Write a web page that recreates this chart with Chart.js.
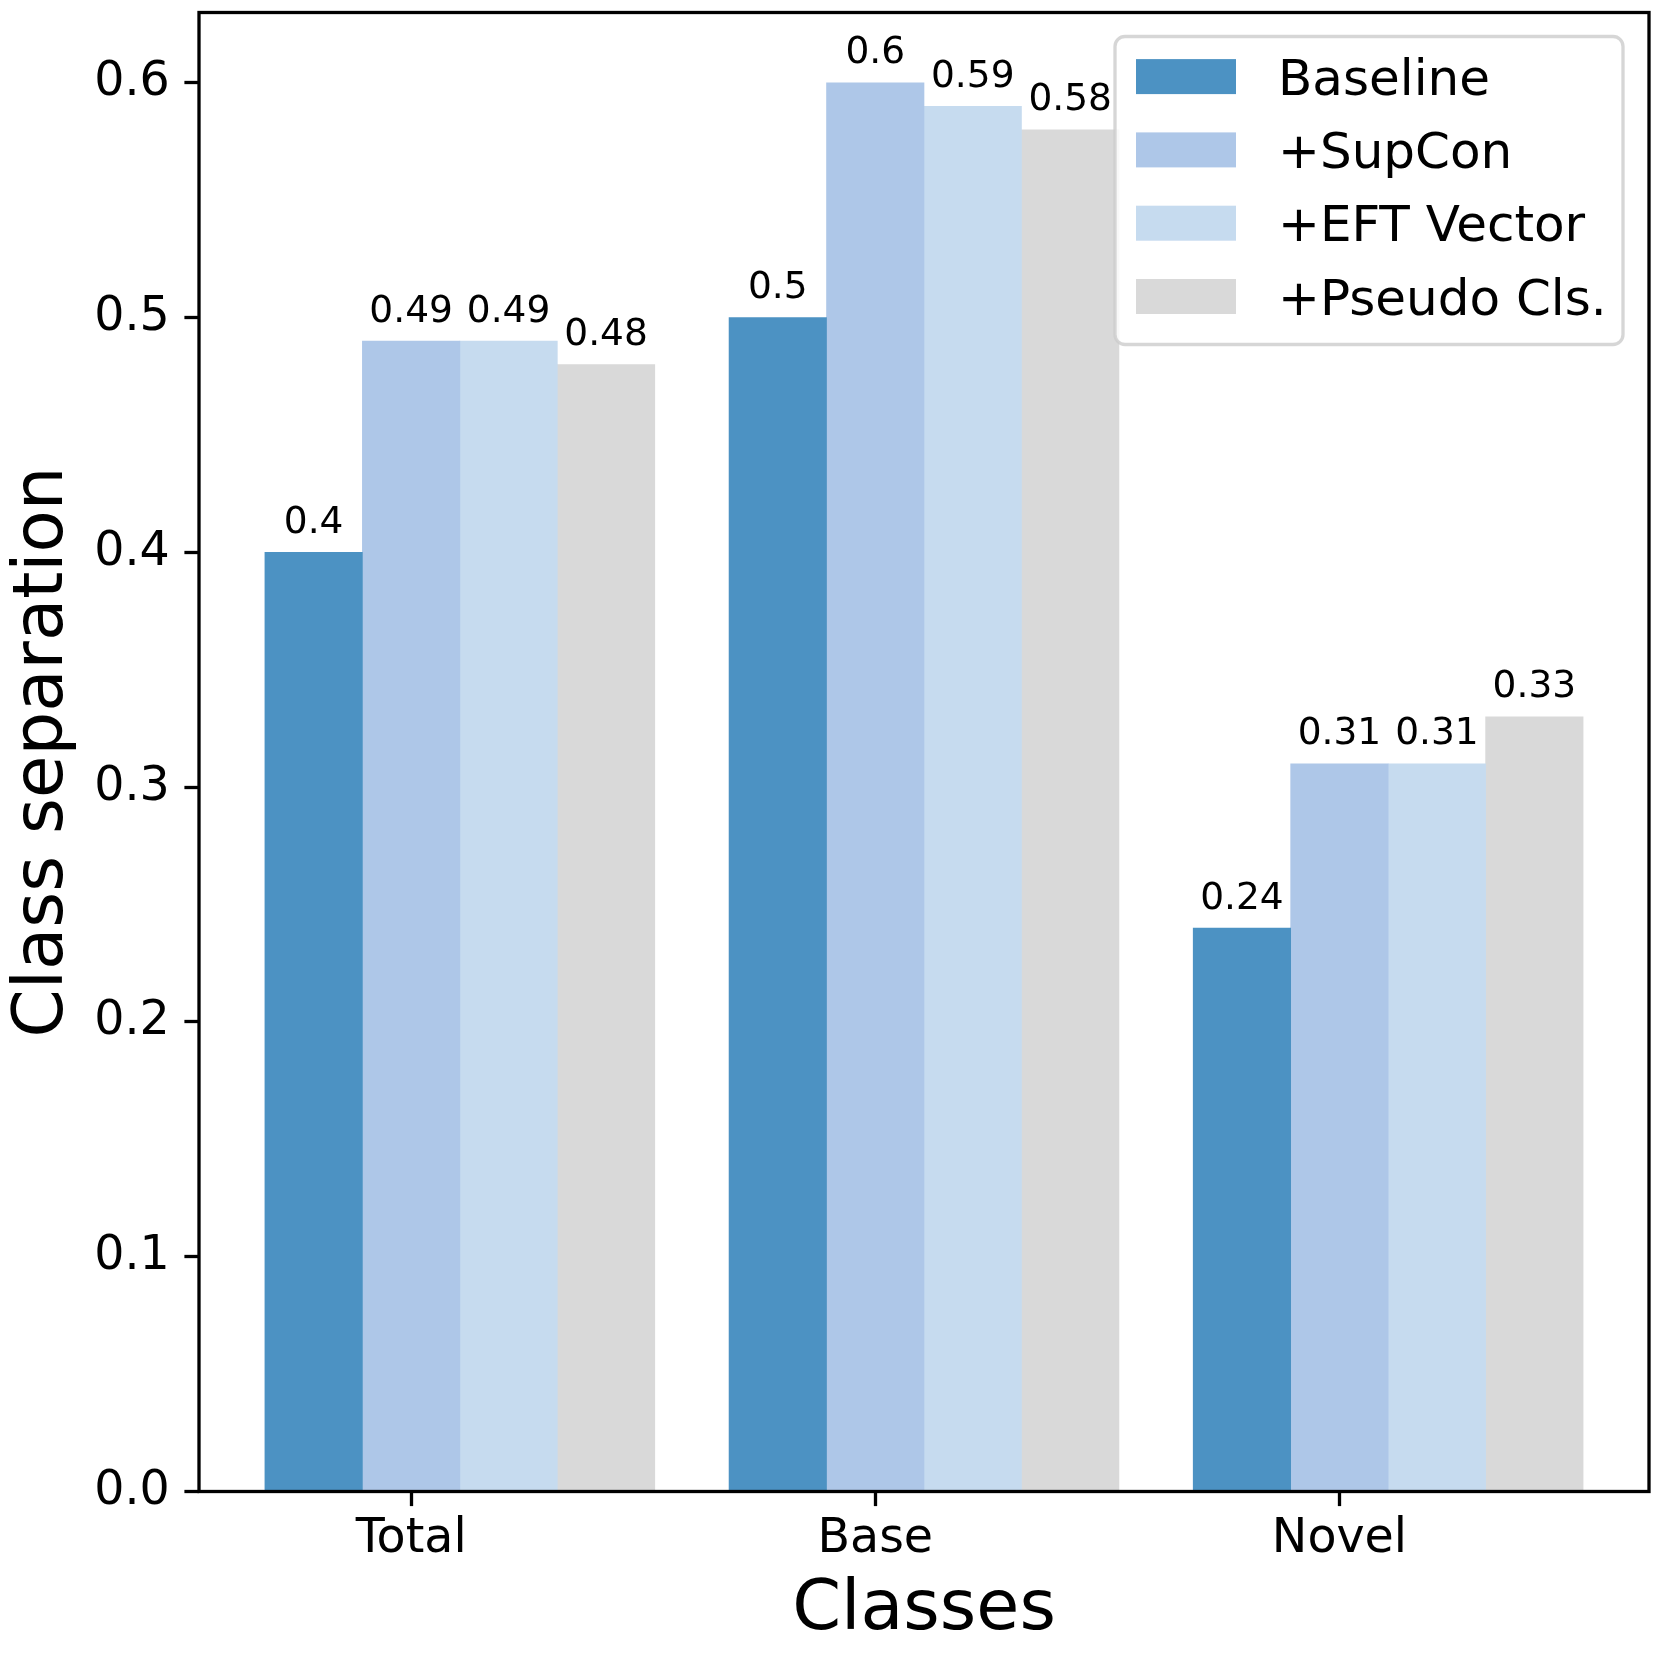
<!DOCTYPE html>
<html>
<head>
<meta charset="utf-8">
<script src="https://cdn.jsdelivr.net/npm/chart.js@4.4.0/dist/chart.umd.min.js"></script>
<style>
  html, body { margin: 0; padding: 0; background: #fff; }
  #chart { display: block; }
</style>
</head>
<body>
<canvas id="chart" width="1661" height="1661"></canvas>
<script>
// --- data ---
const categories = ['Total', 'Base', 'Novel'];
const seriesNames = ['Baseline', '+SupCon', '+EFT Vector', '+Pseudo Cls.'];
const baseline = [0.4, 0.5, 0.24];
const supCon = [0.49, 0.6, 0.31];
const eftVector = [0.49, 0.59, 0.31];
const pseudoCls = [0.48, 0.58, 0.33];
const yTicks = [0, 0.1, 0.2, 0.3, 0.4, 0.5, 0.6];
const seriesColors = ['#4c92c3', '#aec7e8', '#c6dbef', '#d9d9d9'];

const FONT = "'DejaVu Sans', sans-serif";
const BAR_W = 0.21; // bar width in category units, tick sits on the 2nd bar
const Y_MAX = 0.63;

const allSeries = [baseline, supCon, eftVector, pseudoCls];

// x range like matplotlib's 5% margins
const leftEdge = -1 * BAR_W - BAR_W / 2;
const rightEdge = (categories.length - 1) + 2 * BAR_W + BAR_W / 2;
const margin = (rightEdge - leftEdge) * 0.05;

const datasets = allSeries.map((values, j) => ({
    label: seriesNames[j],
    data: values.map((v, i) => ({ x: i + (j - 1) * BAR_W, y: v })),
    backgroundColor: seriesColors[j],
    borderWidth: 0,
    grouped: false,
    barPercentage: 1,
    categoryPercentage: 1
}));

// spines, value labels and the boxed legend
const decorations = {
    id: 'decorations',
    afterDatasetsDraw(chart) {
        const { ctx, chartArea } = chart;
        ctx.save();

        // value labels above bars
        ctx.font = `37.5px ${FONT}`;
        ctx.fillStyle = '#000';
        ctx.textAlign = 'center';
        ctx.textBaseline = 'alphabetic';
        chart.data.datasets.forEach((ds, j) => {
            const meta = chart.getDatasetMeta(j);
            meta.data.forEach((bar, i) => {
                ctx.fillText(String(allSeries[j][i]), bar.x, bar.y - 19.5);
            });
        });

        // four spines
        ctx.strokeStyle = '#000';
        ctx.lineWidth = 3.3;
        ctx.strokeRect(chartArea.left, chartArea.top,
            chartArea.right - chartArea.left, chartArea.bottom - chartArea.top);
        ctx.restore();
    },
    afterDraw(chart) {
        const { ctx, chartArea } = chart;
        const boxRight = chartArea.right - 26;
        const boxTop = chartArea.top + 24;
        const boxW = 508;
        const boxH = 308;
        const boxLeft = boxRight - boxW;

        ctx.save();
        ctx.beginPath();
        ctx.roundRect(boxLeft, boxTop, boxW, boxH, 10);
        ctx.fillStyle = 'rgba(255,255,255,0.8)';
        ctx.fill();
        ctx.strokeStyle = 'rgba(204,204,204,0.8)';
        ctx.lineWidth = 3.3;
        ctx.stroke();

        ctx.font = `50px ${FONT}`;
        ctx.textAlign = 'left';
        ctx.textBaseline = 'alphabetic';
        chart.data.datasets.forEach((ds, j) => {
            const rowTop = boxTop + 22.6 + j * 73.3;
            ctx.fillStyle = ds.backgroundColor;
            ctx.fillRect(boxLeft + 21, rowTop, 100, 35);
            ctx.fillStyle = '#000';
            ctx.fillText(ds.label, boxLeft + 163, rowTop + 35.7);
        });
        ctx.restore();
    }
};

const tickGrid = {
    drawOnChartArea: false,
    drawTicks: true,
    offset: false,
    tickLength: 14.6,
    tickWidth: 3.3,
    tickColor: '#000'
};

new Chart(document.getElementById('chart'), {
    type: 'bar',
    data: { datasets },
    options: {
        responsive: false,
        animation: false,
        layout: { padding: { top: 12.5, right: 12, left: 0, bottom: 0 } },
        plugins: {
            legend: { display: false },
            tooltip: { enabled: false }
        },
        scales: {
            x: {
                type: 'linear',
                offset: false,
                min: leftEdge - margin,
                max: rightEdge + margin,
                afterBuildTicks: (scale) => {
                    scale.ticks = categories.map((_, i) => ({ value: i }));
                },
                afterFit: (scale) => {
                    scale.height = 169.5;
                    scale.paddingLeft = 0;
                    scale.paddingRight = 0;
                },
                ticks: {
                    callback: (v) => categories[v],
                    font: { family: FONT, size: 47.5 },
                    color: '#000',
                    padding: 5,
                    maxRotation: 0,
                    autoSkip: false
                },
                grid: tickGrid,
                border: { display: false },
                title: {
                    display: true,
                    text: 'Classes',
                    font: { family: FONT, size: 70 },
                    color: '#000',
                    padding: { top: 0, bottom: 8 }
                }
            },
            y: {
                type: 'linear',
                min: 0,
                max: Y_MAX,
                afterBuildTicks: (scale) => {
                    scale.ticks = yTicks.map(v => ({ value: v }));
                },
                afterFit: (scale) => {
                    scale.width = 199;
                    scale.paddingTop = 0;
                    scale.paddingBottom = 0;
                },
                ticks: {
                    callback: (v) => v.toFixed(1),
                    font: { family: FONT, size: 47.5 },
                    color: '#000',
                    padding: 14.6
                },
                grid: tickGrid,
                border: { display: false },
                title: {
                    display: true,
                    text: 'Class separation',
                    font: { family: FONT, size: 69 },
                    color: '#000',
                    padding: { top: 3, bottom: 0 }
                }
            }
        }
    },
    plugins: [decorations]
});
</script>
</body>
</html>
